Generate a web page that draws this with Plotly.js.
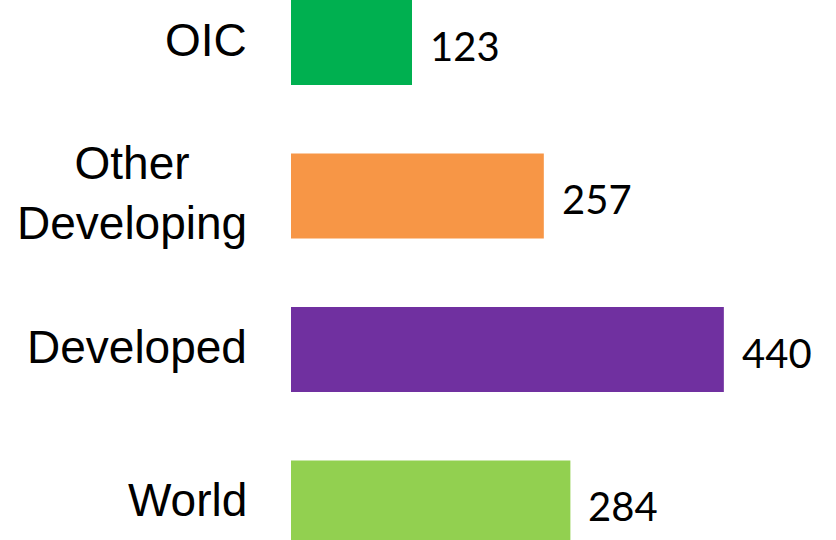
<!DOCTYPE html>
<html><head><meta charset="utf-8">
<script src="https://cdn.plot.ly/plotly-3.0.1.min.js"></script>
<style>html,body{margin:0;padding:0;background:#fff;}#chart{width:836px;height:540px;}</style>
</head><body><div id="chart"></div>
<script>
const categories = ['OIC', 'Other Developing', 'Developed', 'World'];
const labelTexts = ['OIC', 'Other<br>Developing', 'Developed', 'World'];
const values = [123, 257, 440, 284];
const colors = ['#00B050', '#F79646', '#7030A0', '#92D050'];

const trace = {
  type: 'bar', orientation: 'h',
  x: values, y: categories,
  marker: {color: colors, line: {width: 0}},
  width: 0.554, hoverinfo: 'none'
};

const annotations = [];
categories.forEach((c, i) => {
  annotations.push({
    x: values[i], y: c, xref: 'x', yref: 'y', text: String(values[i]),
    showarrow: false, xanchor: 'left', yanchor: 'middle', xshift: 16, yshift: -3,
    font: {family: 'Lato, "Open Sans", sans-serif', size: 40, color: '#000'}
  });
  annotations.push({
    x: 0, y: c, xref: 'paper', yref: 'y', text: labelTexts[i],
    showarrow: false, xanchor: 'right', yanchor: 'middle', align: 'center', xshift: -42, yshift: 3,
    font: {family: '"Liberation Sans", Arial, sans-serif', size: 46, color: '#000'}
  });
});

const layout = {
  width: 836, height: 540,
  margin: {l: 291, r: 0, t: 0, b: 0, pad: 0},
  paper_bgcolor: '#fff', plot_bgcolor: '#fff',
  showlegend: false,
  xaxis: {range: [0, 554], showgrid: false, zeroline: false, showticklabels: false, showline: false, ticks: ''},
  yaxis: {type: 'category', categoryorder: 'array', categoryarray: categories,
          range: [3.241, -0.277], showgrid: false, zeroline: false, showticklabels: false, showline: false, ticks: ''},
  annotations: annotations
};
Plotly.newPlot('chart', [trace], layout, {displayModeBar: false, staticPlot: true});
</script></body></html>
